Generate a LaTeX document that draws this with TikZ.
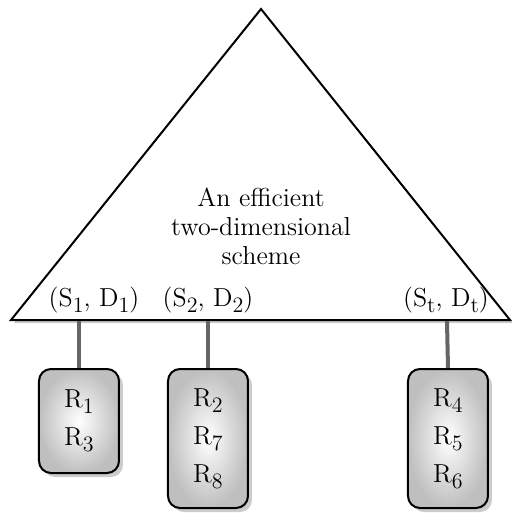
\documentclass[tikz,border=0pt]{standalone}
\usetikzlibrary{positioning,shadows}

\newcommand{\idx}[1]{\raisebox{-0.55ex}{\fontsize{11}{11}\selectfont #1}}

\tikzset{
    shade box/.style={draw=black, line width=1pt, rounded corners=6pt,
        inner color=white, outer color=gray!50,
        drop shadow={shadow xshift=2pt, shadow yshift=-2pt, fill=gray!80},
        minimum width=40pt, align=center,
        font=\fontsize{13}{19}\selectfont},
    hang/.style={line width=2pt, black!60},
    pair/.style={font=\fontsize{13}{14}\selectfont, inner sep=0pt}
}

\begin{document}
\begin{tikzpicture}[x=0.5pt, y=-0.5pt]
    \useasboundingbox (0,0) rectangle (511,516);

    % the scheme
    \draw[line width=1pt, fill=white,
          drop shadow={shadow xshift=1.5pt, shadow yshift=-1.5pt, fill=gray!80}]
        (11,320) -- (261,9) -- (510,320) -- cycle;

    \node[align=center, font=\fontsize{13}{14.5}\selectfont] (title) at (261,226)
        {An efficient\\two-dimensional\\scheme};

    \node[pair] (p1) at (94,300) {(S\idx{1}, D\idx{1})};
    \node[pair] (p2) at (208,300) {(S\idx{2}, D\idx{2})};
    \node[pair] (pt) at (446,300) {(S\idx{t}, D\idx{t})};

    \coordinate (c1) at (79,321);
    \coordinate (c2) at (208,321);
    \coordinate (ct) at (447,321);

    % the groups
    \node[shade box, minimum height=52pt] (g1) at (79,421) {R\idx{1}\\R\idx{3}};
    \node[shade box, minimum height=69.5pt] (g2) at (208,438.5) {R\idx{2}\\R\idx{7}\\R\idx{8}};
    \node[shade box, minimum height=69.5pt] (gt) at (448,438.5) {R\idx{4}\\R\idx{5}\\R\idx{6}};

    \draw[hang] (c1) -- (g1.north);
    \draw[hang] (c2) -- (g2.north);
    \draw[hang] (ct) -- (gt.north);
\end{tikzpicture}
\end{document}
